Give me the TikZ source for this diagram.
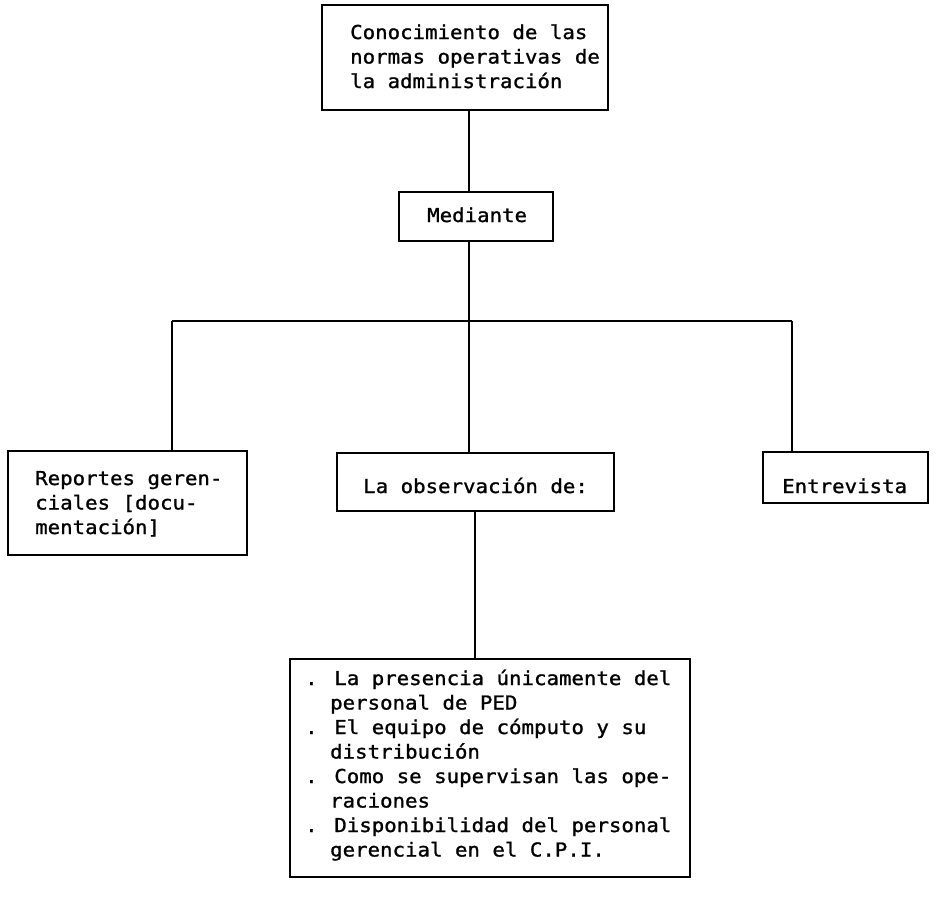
\documentclass[tikz,border=0pt]{standalone}
\usepackage{fontspec}
\newfontfamily\typewriter[FakeStretch=1.08,FakeBold=1.2]{DejaVu Sans Mono}
\newcommand\ind{\phantom{.\ }}
\begin{document}
\begin{tikzpicture}[x=1pt,y=-1pt,
  box/.style={draw, line width=1.6pt, inner sep=0pt},
  txt/.style={anchor=base west, align=left, inner sep=0pt,
    font=\typewriter\fontsize{19.2}{24.5}\selectfont},
  link/.style={line width=1.9pt}]
\useasboundingbox (0,0) rectangle (944,898);

% frames
\node[box, minimum width=286pt, minimum height=105pt] (top)  at (465,57.5) {};
\node[box, minimum width=154pt, minimum height=49pt]  (med)  at (476,216.5) {};
\node[box, minimum width=239pt, minimum height=104pt] (rep)  at (127.5,503) {};
\node[box, minimum width=277pt, minimum height=58pt]  (obs)  at (475.5,482) {};
\node[box, minimum width=165pt, minimum height=51pt]  (ent)  at (845.5,477.5) {};
\node[box, minimum width=400pt, minimum height=218pt] (list) at (490,768) {};

% texts (anchored at the baseline of the last line)
\node[txt] (topT) at (350,88) {Conocimiento de las\\normas operativas de\\la administración};
\node[txt] (medT) at (427,222) {Mediante};
\node[txt] (repT) at (35,534) {Reportes geren-\\ciales [docu-\\mentación]};
\node[txt] (obsT) at (363,493) {La observación de:};
\node[txt] (entT) at (782,493) {Entrevista};
\node[txt] (listT) at (305,856.5) {. La presencia únicamente del\\\ind personal de PED\\. El equipo de cómputo y su\\\ind distribución\\. Como se supervisan las ope-\\\ind raciones\\. Disponibilidad del personal\\\ind gerencial en el C.P.I.};

% branching points
\coordinate (hl) at (172,321);
\coordinate (hc) at (469,321);
\coordinate (hr) at (792,321);
\coordinate (lc) at (475,0);

% connectors
\draw[link] (top.south -| hc) -- (med.north -| hc);
\draw[link] (med.south -| hc) -- (hc);
\draw[link] (hl) -- (hr);
\draw[link] (hl) -- (rep.north -| hl);
\draw[link] (hc) -- (obs.north -| hc);
\draw[link] (hr) -- (ent.north -| hr);
\draw[link] (obs.south -| lc) -- (list.north -| lc);
\end{tikzpicture}
\end{document}
